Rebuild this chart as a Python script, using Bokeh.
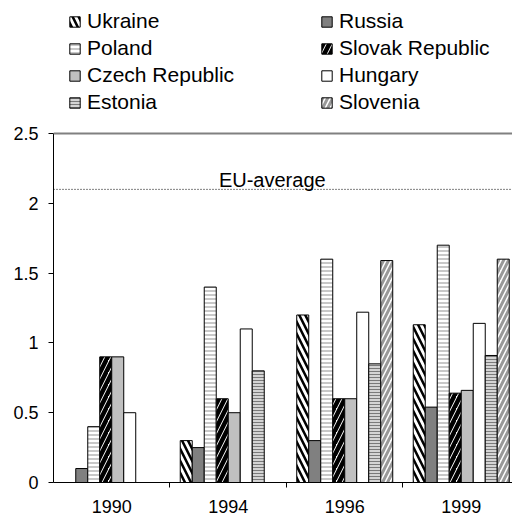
from bokeh.plotting import figure
from bokeh.models import (Range1d, FixedTicker, CustomJSTickFormatter, NumeralTickFormatter,
                          Span, Label, Legend, LegendItem)
from bokeh.embed import file_html
from bokeh.resources import INLINE

years = ["1990", "1994", "1996", "1999"]
countries = ["Ukraine", "Russia", "Poland", "Slovak Republic",
             "Czech Republic", "Hungary", "Estonia", "Slovenia"]
ukraine = [0.0, 0.30, 1.20, 1.13]
russia = [0.10, 0.25, 0.30, 0.54]
poland = [0.40, 1.40, 1.60, 1.70]
slovak = [0.90, 0.60, 0.60, 0.64]
czech = [0.90, 0.50, 0.60, 0.66]
hungary = [0.50, 1.10, 1.22, 1.14]
estonia = [0.0, 0.80, 0.85, 0.91]
slovenia = [0.0, 0.0, 1.59, 1.60]
eu_average = 2.1
y_ticks = [0, 0.5, 1, 1.5, 2, 2.5]

series = [ukraine, russia, poland, slovak, czech, hungary, estonia, slovenia]

styles = [
    dict(fill_color="white", hatch_pattern="\\", hatch_color="black", hatch_weight=2.5, hatch_scale=12),
    dict(fill_color="#808080"),
    dict(fill_color="white", hatch_pattern="-", hatch_color="#c8c8c8", hatch_weight=2, hatch_scale=4),
    dict(fill_color="white", hatch_pattern="/", hatch_color="black", hatch_weight=4.5, hatch_scale=12),
    dict(fill_color="#c0c0c0"),
    dict(fill_color="white"),
    dict(fill_color="#d4d4d4", hatch_pattern="-", hatch_color="#7a7a7a", hatch_weight=1, hatch_scale=3),
    dict(fill_color="white", hatch_pattern="/", hatch_color="#999999", hatch_weight=3, hatch_scale=10),
]

FONT = "Liberation Sans"

p = figure(width=512, height=520, output_backend="svg", toolbar_location=None, title=None,
           x_range=Range1d(0, 3.94), y_range=Range1d(0, 3.453),
           min_border_left=53, min_border_right=0, min_border_top=0, min_border_bottom=38)
p.outline_line_color = None
p.grid.visible = False
p.background_fill_color = "white"

bar_w = 0.103
renderers = []
for k, (name, vals, st) in enumerate(zip(countries, series, styles)):
    xs = [i + 0.5 + (k - 3.5) * bar_w for i in range(len(years))]
    r = p.vbar(x=xs, top=vals, width=bar_w, bottom=0, line_color="black", line_width=1, **st)
    renderers.append(r)

# axes
xa = p.xaxis[0]
xa.ticker = FixedTicker(ticks=[i + 0.5 for i in range(len(years))],
                        minor_ticks=list(range(1, len(years))))
xa.formatter = CustomJSTickFormatter(args=dict(labels=years), code="return labels[Math.floor(tick)];")
xa.major_tick_out = 0
xa.major_tick_in = 0
xa.minor_tick_out = 5
xa.minor_tick_in = 0
xa.minor_tick_line_color = "black"
xa.axis_line_color = "black"
xa.major_label_text_font = FONT
xa.major_label_text_font_size = "18px"
xa.major_label_text_color = "black"
xa.major_label_standoff = 12

ya = p.yaxis[0]
ya.ticker = FixedTicker(ticks=y_ticks, minor_ticks=[])
ya.formatter = NumeralTickFormatter(format="0.[0]")
ya.bounds = (0, 2.5)
ya.major_tick_out = 5
ya.major_tick_in = 0
ya.minor_tick_out = 0
ya.minor_tick_in = 0
ya.axis_line_color = "black"
ya.major_tick_line_color = "black"
ya.major_label_text_font = FONT
ya.major_label_text_font_size = "18px"
ya.major_label_text_color = "black"
ya.major_label_standoff = 10

p.add_layout(Span(location=2.5, dimension="width", line_color="#808080", line_width=2))
p.add_layout(Span(location=eu_average, dimension="width", line_color="black",
                  line_width=1, line_dash="1 2"))
p.add_layout(Label(x=1.42, y=eu_average + 0.065, text="EU-average", text_font=FONT,
                   text_font_size="20px", text_color="black", text_baseline="alphabetic"))

def make_legend(idx, loc):
    items = [LegendItem(label=countries[i], renderers=[renderers[i]]) for i in idx]
    lg = Legend(items=items, location=loc, orientation="vertical",
                label_text_font=FONT, label_text_font_size="21px", label_text_color="black",
                glyph_width=13, glyph_height=13, label_height=20, label_standoff=6,
                spacing=3, padding=0, margin=0,
                border_line_color=None, background_fill_alpha=0)
    return lg

p.add_layout(make_legend([0, 2, 4, 6], (15, 368)), "center")
p.add_layout(make_legend([1, 3, 5, 7], (267, 368)), "center")

open("out.html", "w").write(file_html(p, INLINE))
